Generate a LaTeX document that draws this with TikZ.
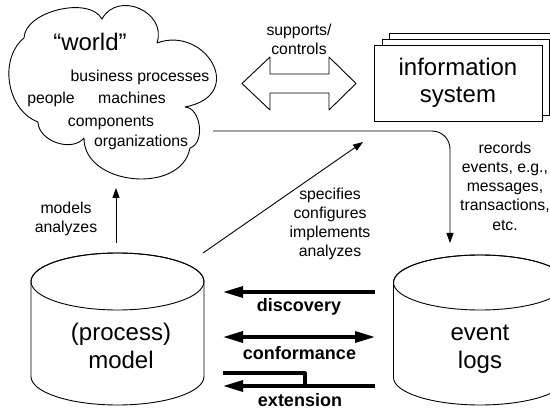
\documentclass[tikz,border=0pt]{standalone}
\usepackage{fontspec}
\setmainfont{Liberation Sans}
\usetikzlibrary{arrows.meta}
\begin{document}
\begin{tikzpicture}[x=1pt,y=1pt,line join=round,
  small/.style={font=\fontsize{15.8}{19.2}\selectfont},
  big/.style={font=\fontsize{24}{28}\selectfont},
  bigis/.style={font=\fontsize{24}{27}\selectfont},
  boldlbl/.style={font=\fontsize{18}{20}\selectfont\bfseries},
  ml/.style={align=center,anchor=north,inner sep=0pt},
  sl/.style={anchor=base,inner sep=0pt},
  thinline/.style={line width=0.9pt},
  conn/.style={line width=0.9pt,-{Triangle[length=10pt,width=7pt]}},
  boldarrow/.style={line width=3.3pt,-{Triangle[length=20pt,width=11pt]}},
  boldboth/.style={line width=3.3pt,{Triangle[length=20pt,width=11pt]}-{Triangle[length=20pt,width=11pt]}},
  boldline/.style={line width=3.3pt},
  box/.style={draw,thinline,fill=white,anchor=north west,inner sep=0pt}]
\useasboundingbox (0,0) rectangle (550,-412);
\clip (0,0) rectangle (550,-412);

% cloud
\draw[thinline] (24,-38) to[bend left=75,looseness=0.85] (102,-19)
  to[bend left=85,looseness=1.4] (157,-43)
  .. controls (205,-25) and (248,-95) .. (185,-107)
  to[bend left=80] (190,-148)
  to[bend left=85,looseness=1.15] (84,-138)
  to[bend left=70] (38,-122)
  to[bend left=60] cycle;
\node[big,sl] (world) at (90,-51) {“world”};
\node[small,sl] (bp) at (140,-82) {business processes};
\node[small,sl] (people) at (51,-104) {people};
\node[small,sl] (mach) at (132,-104) {machines};
\node[small,sl] (comp) at (111,-127) {components};
\node[small,sl] (org) at (141,-147) {organizations};

% hollow double arrow
\draw[thinline] (242,-83.5) -- (270,-57) -- (270,-74) -- (329,-74) -- (329,-57)
  -- (356,-83.5) -- (329,-110) -- (329,-93) -- (270,-93) -- (270,-110) -- cycle;
\node[small,ml] (sup) at (299,-21.56) {\strut supports/\\controls};

% information system
\node[box,minimum width=171pt,minimum height=76pt] (is3) at (389,-33) {};
\node[box,minimum width=167pt,minimum height=76pt] (is2) at (382,-39) {};
\node[box,minimum width=168pt,minimum height=76pt] (is) at (374,-45) {};
\node[bigis,ml] (istext) at (458,-56.1) {\strut information\\system};

% process model cylinder
\filldraw[thinline,fill=white] (31,-281.5) -- (31,-376.5)
  arc[start angle=180,end angle=360,x radius=86.5,y radius=28.5]
  -- (204,-281.5) arc[start angle=0,end angle=180,x radius=86.5,y radius=28.5] -- cycle;
\draw[thinline] (117.5,-281.5) ellipse[x radius=86.5,y radius=28.5];
\node[big,ml] (model) at (121,-320.4) {\strut (process)\\model};

% event logs cylinder
\filldraw[thinline,fill=white] (393.5,-282.5) -- (393.5,-377.5)
  arc[start angle=180,end angle=360,x radius=86.5,y radius=27.5]
  -- (566.5,-282.5) arc[start angle=0,end angle=180,x radius=86.5,y radius=27.5] -- cycle;
\draw[thinline] (480,-282.5) ellipse[x radius=86.5,y radius=27.5];
\node[big,ml] (logs) at (480,-320.4) {\strut event\\logs};

% connectors
\coordinate (mFrom) at (116,-243);
\coordinate (mTo) at (116,-188);
\draw[conn] (mFrom) -- (mTo);
\node[small,ml] (modlbl) at (66,-199.56) {\strut models\\analyzes};

\coordinate (sFrom) at (203,-253);
\coordinate (sTo) at (363,-142);
\draw[conn] (sFrom) -- (sTo);
\node[small,ml] (speclbl) at (330,-185.56) {\strut specifies\\configures\\implements\\analyzes};

\coordinate (wOut) at (213,-131);
\coordinate (lIn) at (450,-243);
\draw[conn,rounded corners=18pt] (wOut) -| (lIn);
\node[small,ml] (reclbl) at (505,-139.56) {\strut records\\events, e.g.,\\messages,\\transactions,\\etc.};

% bold arrows
\coordinate (dR) at (375,-292);
\coordinate (dL) at (223,-292);
\draw[boldarrow] (dR) -- (dL);
\node[boldlbl,sl] (disc) at (299,-312) {discovery};

\coordinate (cL) at (223,-337);
\coordinate (cR) at (375,-337);
\draw[boldboth] (cL) -- (cR);
\node[boldlbl,sl] (conf) at (299.5,-359) {conformance};

\coordinate (eTL) at (223,-373);
\coordinate (eJ) at (305,-386);
\coordinate (eR) at (375,-386);
\coordinate (eL) at (223,-386);
\draw[boldline] (eTL) -| (eJ);
\draw[boldarrow] (eR) -- (eL);
\node[boldlbl,sl] (ext) at (300,-406) {extension};
\end{tikzpicture}
\end{document}
